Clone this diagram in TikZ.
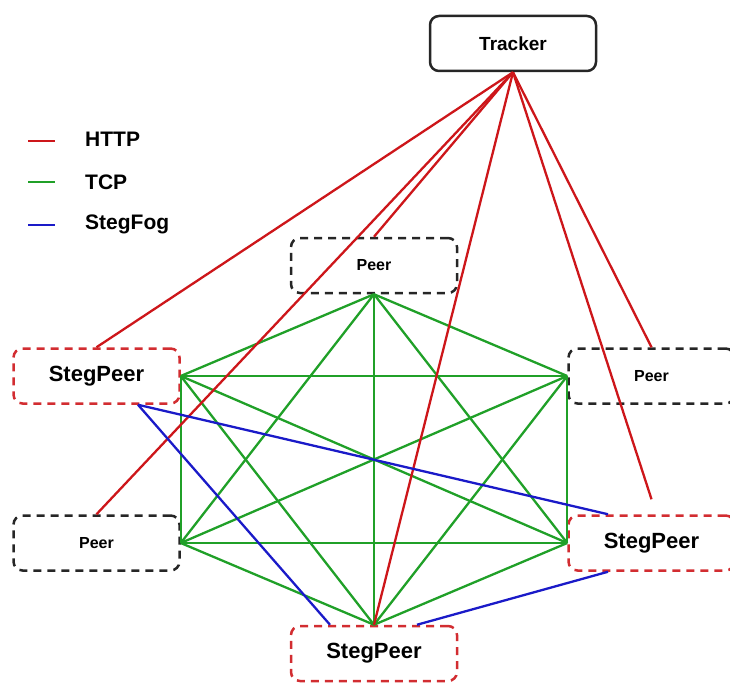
\documentclass[tikz,border=0pt]{standalone}
\usepackage{fontspec}
\setmainfont{Liberation Sans}
\definecolor{httpred}{RGB}{205,22,26}
\definecolor{tcpgreen}{RGB}{32,160,40}
\definecolor{fogblue}{RGB}{26,26,200}
\begin{document}
\begin{tikzpicture}[x=1pt, y=-1pt,
  box/.style={shape=rectangle, rounded corners=9pt, line width=2.5pt, minimum width=166pt, minimum height=55pt, inner sep=0pt},
  tracker/.style={box, draw=black!85, font=\fontsize{19}{19}\selectfont\bfseries},
  peer/.style={box, draw=black!85, dash pattern=on 8pt off 6pt, font=\fontsize{16}{16}\selectfont\bfseries},
  stegpeer/.style={box, draw=httpred!90, dash pattern=on 8pt off 6pt, font=\fontsize{22}{22}\selectfont\bfseries},
  http/.style={draw=httpred, line width=2.3pt},
  tcp/.style={draw=tcpgreen, line width=2.3pt},
  fog/.style={draw=fogblue, line width=2.3pt},
  legend/.style={anchor=west, inner sep=0pt, font=\fontsize{21}{21}\selectfont\bfseries}]
    \useasboundingbox (0,0) rectangle (730,682);

    % legend
    \draw[http] (28,141) -- (55,141);
    \draw[tcp] (28,182) -- (55,182);
    \draw[fog] (28,225) -- (55,225);
    \node[legend] (lhttp) at (85,139) {HTTP};
    \node[legend] (ltcp) at (85,182) {TCP};
    \node[legend] (lfog) at (85,224) {StegFog};

    \node[tracker] (tr) at (513,43.5) {Tracker};
    \node[peer] (pt) at (374,265.5) {Peer};
    \node[stegpeer] (spl) at (96.5,376) {StegPeer};
    \node[peer] (pr) at (651.5,376) {Peer};
    \node[peer] (pl) at (96.5,543) {Peer};
    \node[stegpeer] (spr) at (651.5,543) {StegPeer};
    \node[stegpeer] (spb) at (374,653.5) {StegPeer};

    % tcp mesh
    \foreach \a/\b in {pt.south/spl.east, pt.south/pr.west, pt.south/pl.east, pt.south/spr.west, pt.south/spb.north,
                       spl.east/pr.west, spl.east/pl.east, spl.east/spr.west, spl.east/spb.north,
                       pr.west/pl.east, pr.west/spr.west, pr.west/spb.north,
                       pl.east/spr.west, pl.east/spb.north, spr.west/spb.north}
      \draw[tcp] (\a) -- (\b);

    % http to tracker
    \foreach \n in {spl, pt, pl, spb, pr}
      \draw[http] (tr.south) -- (\n.north);
    \draw[http] (tr.south) -- ([yshift=15pt]spr.north);

    % stegfog
    \draw[fog] ([xshift=41.5pt]spl.south) -- ([xshift=-43.5pt]spr.north);
    \draw[fog] ([xshift=41.5pt]spl.south) -- ([xshift=-44pt]spb.north);
    \draw[fog] ([xshift=-43.5pt]spr.south) -- ([xshift=43pt]spb.north);
  \end{tikzpicture}
\end{document}
